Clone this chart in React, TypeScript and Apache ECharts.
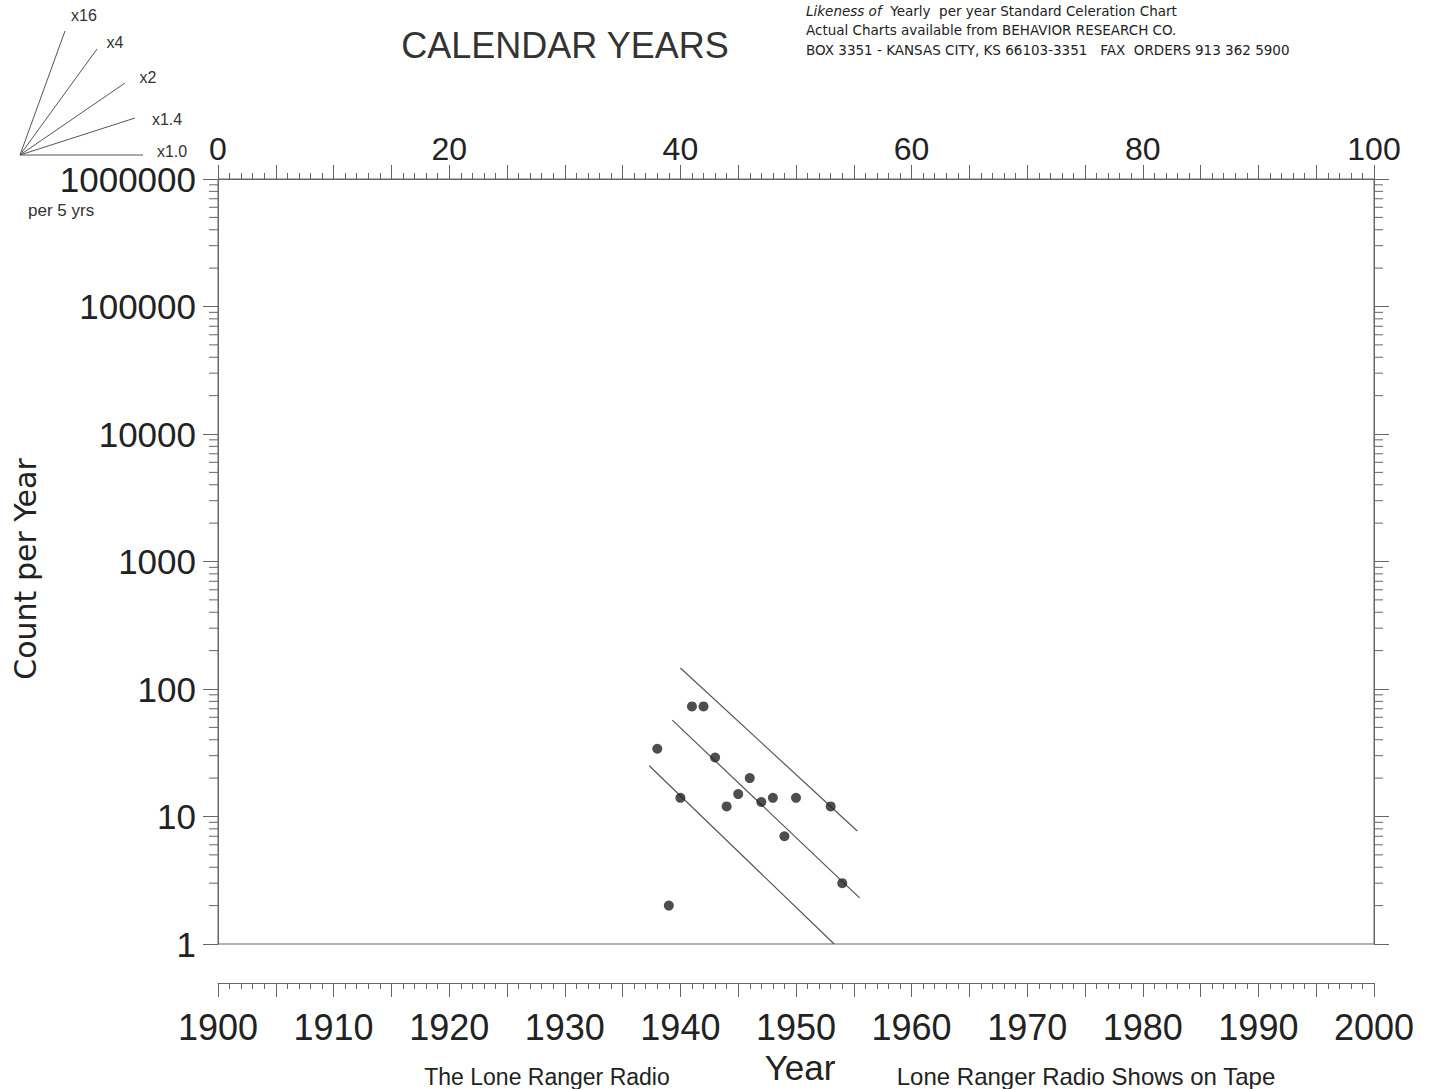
import React, { useEffect, useRef } from "react";
import * as echarts from "echarts";

// ---- Data ----
const years = [1938, 1939, 1940, 1941, 1942, 1943, 1944, 1945, 1946, 1947, 1948, 1949, 1950, 1953, 1954];
const counts = [34, 2, 14, 73, 73, 29, 12, 15, 20, 13, 14, 7, 14, 12, 3];

// celeration (trend) lines: [year, count] endpoints
const trendUpper = [[1940.0, 146], [1955.3, 7.7]];
const trendMiddle = [[1939.3, 57], [1955.5, 2.3]];
const trendLower = [[1937.3, 25], [1953.3, 1]];

const yearMin = 1900;
const yearMax = 2000;
const topMin = 0;
const topMax = 100;
const countMin = 1;
const countMax = 1000000;
const decadeMultipliers = [2, 3, 4, 5, 6, 7, 8, 9];

const fanLabels = ["x16", "x4", "x2", "x1.4", "x1.0"];

const headerLines = [
  "Actual Charts available from BEHAVIOR RESEARCH CO.",
  "BOX 3351 - KANSAS CITY, KS 66103-3351   FAX  ORDERS 913 362 5900",
];

const AX = "#666";
const FONT = "'Liberation Sans', Arial, sans-serif";
const HFONT = "'DejaVu Sans', sans-serif";

export default function App() {
  const ref = useRef<HTMLDivElement>(null);

  useEffect(() => {
    if (!ref.current) return;
    const chart = echarts.init(ref.current, undefined, { renderer: "svg" });

    const trendStyle = { color: "#555", width: 1.2 };
    const mkTrend = (d: number[][]) => ({
      type: "line",
      data: d,
      xAxisIndex: 0,
      yAxisIndex: 0,
      symbol: "none",
      lineStyle: trendStyle,
      silent: true,
      z: 2,
    });

    const fanOrigin = [20, 155];
    const fanEnds = [[65, 31], [97, 49], [125, 83], [135, 118], [143, 155]];
    const fanLabelPos = [[84, 15], [115, 42], [148, 77], [167, 119], [172, 151]];

    const option: any = {
      animation: false,
      backgroundColor: "#fff",
      textStyle: { fontFamily: FONT },
      grid: {
        left: 218,
        right: 60,
        top: 179,
        bottom: 145,
        show: true,
        borderColor: AX,
        borderWidth: 1,
        backgroundColor: "transparent",
      },
      xAxis: [
        {
          type: "value",
          min: yearMin,
          max: yearMax,
          interval: 5,
          position: "bottom",
          offset: 39,
          axisLine: { show: true, lineStyle: { color: AX, width: 1 } },
          axisTick: { show: true, length: 14, lineStyle: { color: AX } },
          minorTick: { show: true, splitNumber: 5, length: 6, lineStyle: { color: AX } },
          splitLine: { show: false },
          minorSplitLine: { show: false },
          axisLabel: {
            fontSize: 36,
            color: "#222",
            margin: 26,
            fontFamily: FONT,
            formatter: (v: number) => (v % 10 === 0 ? String(v) : ""),
          },
        },
        {
          type: "value",
          min: topMin,
          max: topMax,
          interval: 5,
          position: "top",
          offset: 0,
          axisLine: { show: true, lineStyle: { color: AX, width: 1 } },
          axisTick: { show: true, length: 14, lineStyle: { color: AX } },
          minorTick: { show: true, splitNumber: 5, length: 6, lineStyle: { color: AX } },
          splitLine: { show: false },
          axisLabel: {
            fontSize: 32,
            color: "#222",
            margin: 14,
            fontFamily: FONT,
            formatter: (v: number) => (v % 20 === 0 ? String(v) : ""),
          },
        },
      ],
      yAxis: [
        {
          type: "log",
          logBase: 10,
          min: countMin,
          max: countMax,
          splitNumber: 6,
          position: "left",
          axisLine: { show: true, lineStyle: { color: AX, width: 1 } },
          axisTick: { show: true, length: 15, lineStyle: { color: AX } },
          splitLine: { show: false },
          axisLabel: {
            fontSize: 35,
            color: "#222",
            margin: 22,
            fontFamily: FONT,
            formatter: (v: number) => String(Math.round(v)),
          },
        },
        {
          type: "log",
          logBase: 10,
          min: countMin,
          max: countMax,
          splitNumber: 6,
          position: "right",
          axisLine: { show: true, lineStyle: { color: AX, width: 1 } },
          axisTick: { show: true, length: 15, lineStyle: { color: AX } },
          splitLine: { show: false },
          axisLabel: { show: false },
        },
      ],
      series: [
        {
          type: "custom",
          xAxisIndex: 0,
          yAxisIndex: 0,
          silent: true,
          data: [[yearMin, countMin]],
          renderItem: (params: any, api: any) => {
            const children: any[] = [];
            for (let e = 0; e < 6; e++) {
              for (const m of decadeMultipliers) {
                const v = m * Math.pow(10, e);
                const l = api.coord([yearMin, v]);
                const r = api.coord([yearMax, v]);
                children.push({
                  type: "line",
                  shape: { x1: l[0] - 9, y1: l[1], x2: l[0], y2: l[1] },
                  style: { stroke: AX, lineWidth: 1 },
                });
                children.push({
                  type: "line",
                  shape: { x1: r[0], y1: r[1], x2: r[0] + 9, y2: r[1] },
                  style: { stroke: AX, lineWidth: 1 },
                });
              }
            }
            return { type: "group", children };
          },
          z: 1,
        },
        mkTrend(trendUpper),
        mkTrend(trendMiddle),
        mkTrend(trendLower),
        {
          type: "scatter",
          xAxisIndex: 0,
          yAxisIndex: 0,
          data: years.map((y, i) => [y, counts[i]]),
          symbol: "circle",
          symbolSize: 10,
          itemStyle: { color: "#222" },
          z: 3,
        },
      ],
      graphic: [
        // celeration fan
        ...fanEnds.map((p) => ({
          type: "line",
          shape: { x1: fanOrigin[0], y1: fanOrigin[1], x2: p[0], y2: p[1] },
          style: { stroke: "#555", lineWidth: 1 },
          silent: true,
        })),
        ...fanLabels.map((t, i) => ({
          type: "text",
          x: fanLabelPos[i][0],
          y: fanLabelPos[i][1],
          style: {
            text: t,
            fontSize: 16,
            fontFamily: FONT,
            fill: "#333",
            align: "center",
            verticalAlign: "middle",
          },
        })),
        {
          type: "text",
          x: 28,
          y: 210,
          style: { text: "per 5 yrs", fontSize: 17, fontFamily: FONT, fill: "#333", verticalAlign: "middle" },
        },
        {
          type: "text",
          x: 565,
          y: 45,
          style: {
            text: "CALENDAR YEARS",
            fontSize: 36,
            fontFamily: FONT,
            fill: "#333",
            align: "center",
            verticalAlign: "middle",
          },
        },
        {
          type: "text",
          x: 806,
          y: 11,
          style: {
            text: "{i|Likeness of}  Yearly  per year Standard Celeration Chart",
            fontSize: 13.5,
            fontFamily: HFONT,
            fill: "#222",
            verticalAlign: "middle",
            rich: { i: { fontStyle: "italic", fontSize: 13.5, fontFamily: HFONT, fill: "#222" } },
          },
        },
        ...headerLines.map((t, i) => ({
          type: "text",
          x: 806,
          y: 30 + i * 20,
          style: {
            text: t,
            fontSize: 13.5,
            fontFamily: HFONT,
            fill: "#222",
            verticalAlign: "middle",
          },
        })),
        {
          type: "text",
          x: 25,
          y: 569,
          rotation: Math.PI / 2,
          style: {
            text: "Count per Year",
            fontSize: 30,
            fontFamily: HFONT,
            fill: "#222",
            align: "center",
            verticalAlign: "middle",
          },
        },
        {
          type: "text",
          x: 800,
          y: 1067,
          style: { text: "Year", fontSize: 35, fontFamily: FONT, fill: "#222", align: "center", verticalAlign: "middle" },
        },
        {
          type: "text",
          x: 547,
          y: 1088,
          style: { text: "The Lone Ranger Radio", fontSize: 23, fontFamily: FONT, fill: "#222", align: "center", verticalAlign: "bottom" },
        },
        {
          type: "text",
          x: 1086,
          y: 1088,
          style: { text: "Lone Ranger Radio Shows on Tape", fontSize: 24, fontFamily: FONT, fill: "#222", align: "center", verticalAlign: "bottom" },
        },
      ],
    };

    chart.setOption(option);
    return () => chart.dispose();
  }, []);

  return (
    <div
      ref={ref}
      style={{ position: "fixed", left: 0, top: 0, width: 1434, height: 1089, background: "#fff" }}
    />
  );
}
